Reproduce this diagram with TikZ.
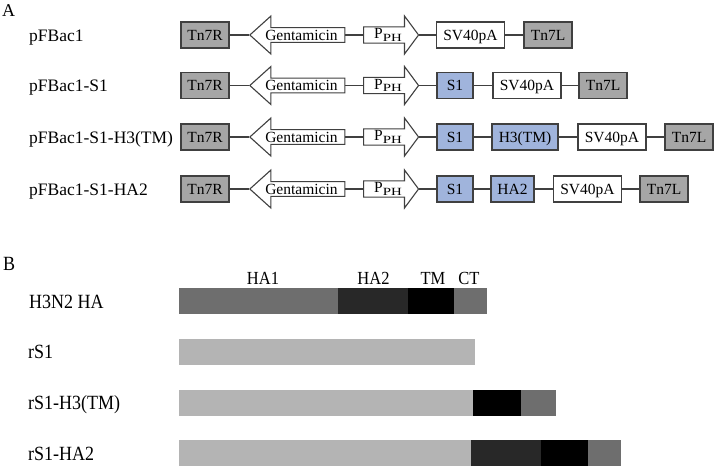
\documentclass[tikz,border=0pt]{standalone}
\usepackage{fontspec}
\setmainfont{Liberation Serif}
\usetikzlibrary{shapes.arrows}
\definecolor{linec}{HTML}{404040}
\definecolor{grayf}{HTML}{A6A6A6}
\definecolor{bluef}{HTML}{A0B4DC}
\definecolor{hamid}{HTML}{6E6E6E}
\definecolor{hadark}{HTML}{282828}
\definecolor{halight}{HTML}{B4B4B4}
\newcommand\bxfont{\fontsize{15.5}{17}\selectfont}
\newcommand\lafont{\fontsize{17.5}{20}\selectfont}
\newcommand\lbfont{\fontsize{18}{20}\selectfont}
\newcommand\sgfont{\fontsize{16.5}{19}\selectfont}
\newcommand\tallB[1]{\scalebox{1}[1.12]{#1}}
\newcommand\pphtext{P\raisebox{-2.5pt}{\fontsize{11}{11}\selectfont\scalebox{1.35}[1]{PH}}}
\begin{document}
\begin{tikzpicture}[x=1pt,y=-1pt,
  box/.style={draw=linec, line width=1.1pt, minimum height=26pt, inner sep=0pt,
    text height=11.5pt, text depth=1.2pt, font=\bxfont},
  gbox/.style={box, fill=grayf},
  wbox/.style={box, fill=white},
  bbox/.style={box, fill=bluef},
  conn/.style={draw=linec, line width=1.1pt},
  garrow/.style={single arrow, shape border rotate=180, draw=linec, line width=1.1pt,
    fill=white, minimum height=95pt, minimum width=38pt, single arrow head extend=10.5pt,
    single arrow tip angle=84, inner xsep=0pt, inner ysep=1pt, font=\bxfont},
  parrow/.style={single arrow, draw=linec, line width=1.1pt,
    fill=white, minimum height=55pt, minimum width=38pt, single arrow head extend=10.5pt,
    single arrow tip angle=107, inner xsep=0pt, inner ysep=1pt, font=\bxfont},
  rowlab/.style={anchor=base west, inner sep=0pt, font=\lafont},
  blab/.style={anchor=base west, inner sep=0pt, font=\lbfont},
  seglab/.style={anchor=base, inner sep=0pt, font=\sgfont},
  panel/.style={anchor=base west, inner sep=0pt, font=\lbfont}
]
\useasboundingbox (0,0) rectangle (714,466);

% ---------- Panel A ----------
\node[panel] (pa) at (2,16) {A};

% Row 1
\node[rowlab] (l1) at (29,41) {pFBac1};
\node[gbox, minimum width=48pt] (r1tr) at (205,35) {Tn7R};
\node[garrow, anchor=tip] (r1gen) at (249,35) {Gentamicin};
\node[parrow, anchor=tail] (r1pph) at (363,35) {\pphtext};
\node[wbox, minimum width=68pt] (r1sv) at (470.5,35) {SV40pA};
\node[gbox, minimum width=48pt] (r1tl) at (548,35) {Tn7L};
\draw[conn] (r1tr.east) -- (r1gen.tip) (r1gen.tail) -- (r1pph.tail)
  (r1pph.tip) -- (r1sv.west) (r1sv.east) -- (r1tl.west);

% Row 2
\node[rowlab] (l2) at (29,91.5) {pFBac1-S1};
\node[gbox, minimum width=48pt] (r2tr) at (205,85.5) {Tn7R};
\node[garrow, anchor=tip] (r2gen) at (249,85.5) {Gentamicin};
\node[parrow, anchor=tail] (r2pph) at (363,85.5) {\pphtext};
\node[bbox, minimum width=36pt] (r2s1) at (455,85.5) {S1};
\node[wbox, minimum width=68pt] (r2sv) at (527,85.5) {SV40pA};
\node[gbox, minimum width=48pt] (r2tl) at (603,85.5) {Tn7L};
\draw[conn] (r2tr.east) -- (r2gen.tip) (r2gen.tail) -- (r2pph.tail)
  (r2pph.tip) -- (r2s1.west) (r2s1.east) -- (r2sv.west) (r2sv.east) -- (r2tl.west);

% Row 3
\node[rowlab] (l3) at (29,143) {pFBac1-S1-H3(TM)};
\node[gbox, minimum width=48pt] (r3tr) at (205,137) {Tn7R};
\node[garrow, anchor=tip] (r3gen) at (249,137) {Gentamicin};
\node[parrow, anchor=tail] (r3pph) at (363,137) {\pphtext};
\node[bbox, minimum width=36pt] (r3s1) at (455,137) {S1};
\node[bbox, minimum width=66pt] (r3h3) at (525,137) {H3(TM)};
\node[wbox, minimum width=68pt] (r3sv) at (612,137) {SV40pA};
\node[gbox, minimum width=48pt] (r3tl) at (689,137) {Tn7L};
\draw[conn] (r3tr.east) -- (r3gen.tip) (r3gen.tail) -- (r3pph.tail)
  (r3pph.tip) -- (r3s1.west) (r3s1.east) -- (r3h3.west) (r3h3.east) -- (r3sv.west)
  (r3sv.east) -- (r3tl.west);

% Row 4
\node[rowlab] (l4) at (29,195) {pFBac1-S1-HA2};
\node[gbox, minimum width=48pt] (r4tr) at (205,189) {Tn7R};
\node[garrow, anchor=tip] (r4gen) at (249,189) {Gentamicin};
\node[parrow, anchor=tail] (r4pph) at (363,189) {\pphtext};
\node[bbox, minimum width=36pt] (r4s1) at (455,189) {S1};
\node[bbox, minimum width=43pt] (r4ha) at (512.5,189) {HA2};
\node[wbox, minimum width=68pt] (r4sv) at (587.5,189) {SV40pA};
\node[gbox, minimum width=48pt] (r4tl) at (664,189) {Tn7L};
\draw[conn] (r4tr.east) -- (r4gen.tip) (r4gen.tail) -- (r4pph.tail)
  (r4pph.tip) -- (r4s1.west) (r4s1.east) -- (r4ha.west) (r4ha.east) -- (r4sv.west)
  (r4sv.east) -- (r4tl.west);

% ---------- Panel B ----------
\node[panel] (pb) at (3,270) {\tallB{B}};

\node[seglab] (tha1) at (263,284) {\tallB{HA1}};
\node[seglab] (tha2) at (373.5,284) {\tallB{HA2}};
\node[seglab] (ttm) at (433,284) {\tallB{TM}};
\node[seglab] (tct) at (469,284) {\tallB{CT}};

\node[blab] (b1) at (29,308) {\tallB{H3N2 HA}};
\node[blab] (b2) at (28,358.5) {\tallB{rS1}};
\node[blab] (b3) at (28,409.5) {\tallB{rS1-H3(TM)}};
\node[blab] (b4) at (28,460) {\tallB{rS1-HA2}};

% H3N2 HA
\fill[hamid]  (179,288) rectangle (338,314);
\fill[hadark] (338,288) rectangle (408,314);
\fill[black]  (408,288) rectangle (454,314);
\fill[hamid]  (454,288) rectangle (487,314);
% rS1
\fill[halight] (179,339) rectangle (475,365);
% rS1-H3(TM)
\fill[halight] (179,390) rectangle (473,416);
\fill[black]   (473,390) rectangle (521,416);
\fill[hamid]   (521,390) rectangle (556,416);
% rS1-HA2
\fill[halight] (179,440) rectangle (471,466);
\fill[hadark]  (471,440) rectangle (541,466);
\fill[black]   (541,440) rectangle (588,466);
\fill[hamid]   (588,440) rectangle (621,466);
\end{tikzpicture}
\end{document}
